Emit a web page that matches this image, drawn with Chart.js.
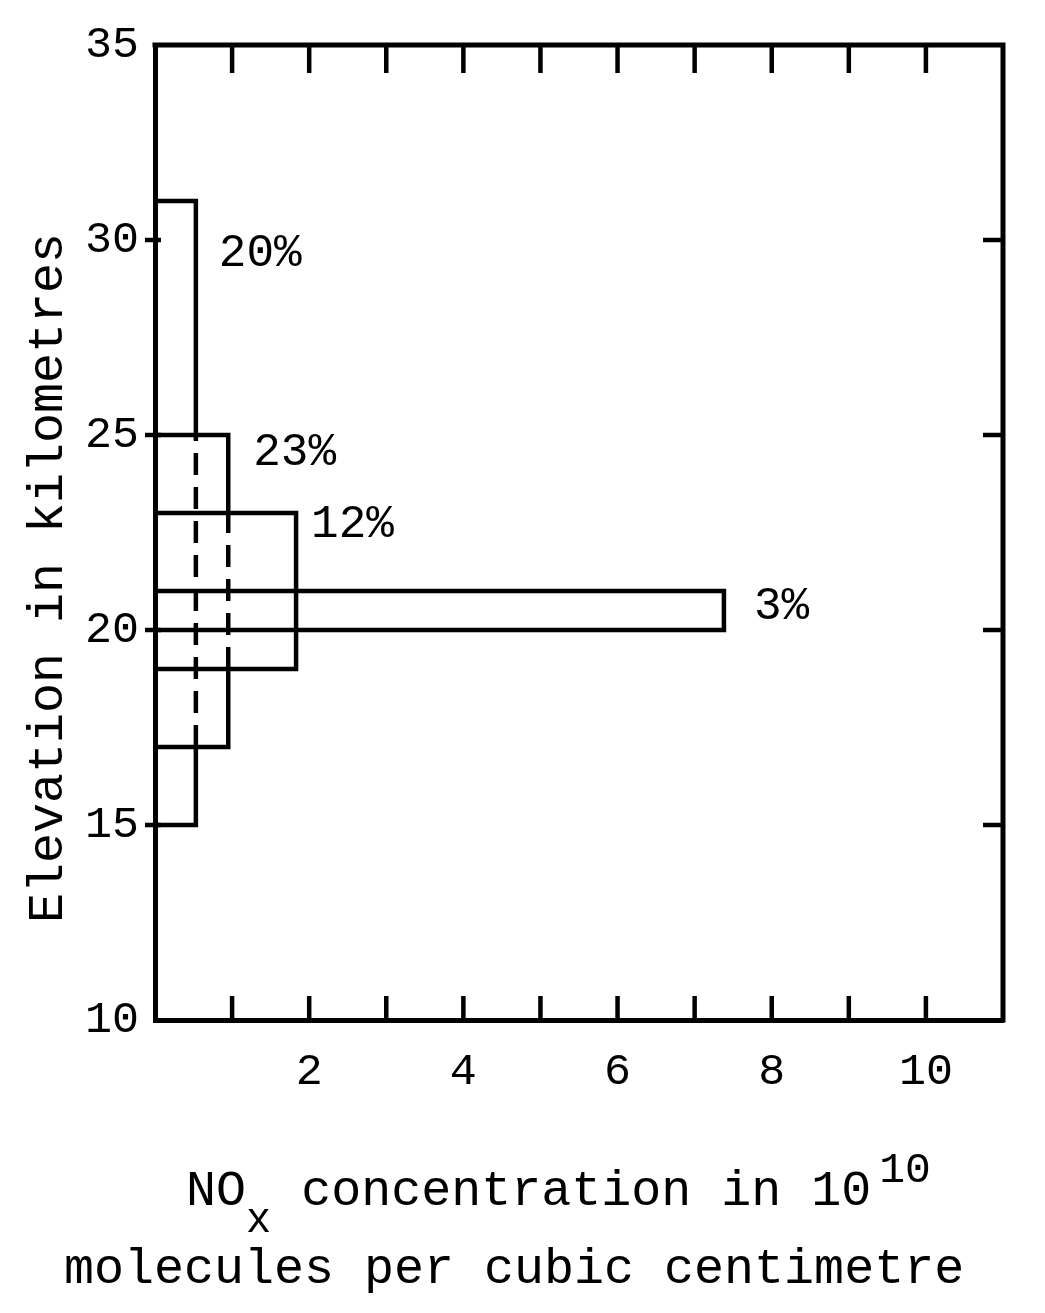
<!DOCTYPE html>
<html>
<head>
<meta charset="utf-8">
<script src="https://cdn.jsdelivr.net/npm/chart.js@4.4.1/dist/chart.umd.min.js"></script>
<style>
  html, body { margin: 0; padding: 0; background: #ffffff; }
  canvas { display: block; }
</style>
</head>
<body>
<canvas id="c" width="1045" height="1313"></canvas>
<script>
// ---- data ----
const elevBottom    = [15, 17, 19, 20];          // km
const elevTop       = [31, 25, 23, 21];          // km
const concentration = [0.53, 0.95, 1.83, 7.38];  // 10^10 molecules / cm^3
const shareLabels   = ['20%', '23%', '12%', '3%'];
const hiddenBy      = [1, 2, null, null];        // index of the bar that hides part of this bar's right edge
const xTickValues   = [2, 4, 6, 8, 10];
const yTickValues   = [10, 15, 20, 25, 30, 35];
const xMinorTicks   = [1, 2, 3, 4, 5, 6, 7, 8, 9, 10];
const yInnerTicks   = [15, 20, 25, 30];
const xTitle1       = { main: 'NO', sub: 'x', rest: ' concentration in 10', sup: '10' };
const xTitle2       = 'molecules per cubic centimetre';
const yTitle        = 'Elevation in kilometres';

// ---- build outline datasets ----
const DASH = [22, 12];
const datasets = concentration.map((w, i) => {
  const b = elevBottom[i], t = elevTop[i];
  const h = hiddenBy[i];
  let pts, dashedSeg = -1;
  if (h !== null) {
    pts = [{x:0,y:b},{x:w,y:b},{x:w,y:elevBottom[h]},{x:w,y:elevTop[h]},{x:w,y:t},{x:0,y:t}];
    dashedSeg = 2;
  } else {
    pts = [{x:0,y:b},{x:w,y:b},{x:w,y:t},{x:0,y:t}];
  }
  return {
    data: pts,
    showLine: true,
    borderColor: '#000',
    borderWidth: 4.5,
    pointRadius: 0,
    tension: 0,
    fill: false,
    borderJoinStyle: 'miter',
    borderCapStyle: 'square',
    segment: {
      borderDash: ctx => (ctx.p0DataIndex === dashedSeg ? DASH : undefined),
      borderCapStyle: ctx => (ctx.p0DataIndex === dashedSeg ? 'butt' : undefined)
    }
  };
});

const labelDx = [23, 25, 15, 30];   // px right of the bar
const labelDy = [53, 18, 12, 16];   // px below the bar top (text centre)

const decor = {
  id: 'decor',
  afterDraw(chart) {
    const {ctx, chartArea: a, scales: {x, y}} = chart;
    ctx.save();
    ctx.strokeStyle = '#000';
    ctx.fillStyle = '#000';
    // top & right frame
    ctx.lineWidth = 5;
    ctx.lineCap = 'square';
    ctx.beginPath();
    ctx.moveTo(a.left, a.top); ctx.lineTo(a.right, a.top); ctx.lineTo(a.right, a.bottom);
    ctx.stroke();
    ctx.lineCap = 'butt';
    ctx.lineWidth = 4.5;
    // x ticks, bottom (inward) and top (inward)
    xMinorTicks.forEach(v => {
      const px = x.getPixelForValue(v);
      ctx.beginPath(); ctx.moveTo(px, a.bottom); ctx.lineTo(px, a.bottom - 24); ctx.stroke();
      ctx.beginPath(); ctx.moveTo(px, a.top); ctx.lineTo(px, a.top + 28); ctx.stroke();
    });
    // y ticks, left (crossing) and right (inward)
    yInnerTicks.forEach(v => {
      const py = y.getPixelForValue(v);
      ctx.beginPath(); ctx.moveTo(a.left - 10, py); ctx.lineTo(a.left + 6, py); ctx.stroke();
      ctx.beginPath(); ctx.moveTo(a.right, py); ctx.lineTo(a.right - 20, py); ctx.stroke();
    });
    // percentage labels
    ctx.font = '46px "Liberation Mono"';
    ctx.textAlign = 'left';
    ctx.textBaseline = 'middle';
    shareLabels.forEach((s, i) => {
      const px = x.getPixelForValue(concentration[i]) + labelDx[i];
      const py = y.getPixelForValue(elevTop[i]) + labelDy[i];
      ctx.fillText(s, px, py);
    });
    // y title
    ctx.save();
    ctx.font = '50px "Liberation Mono"';
    ctx.textAlign = 'center';
    ctx.textBaseline = 'alphabetic';
    ctx.translate(62, 578);
    ctx.rotate(-Math.PI / 2);
    ctx.fillText(yTitle, 0, 0);
    ctx.restore();
    // x title line 1
    ctx.textAlign = 'left';
    ctx.textBaseline = 'alphabetic';
    ctx.font = '50px "Liberation Mono"';
    let cx = 186;
    ctx.fillText(xTitle1.main, cx, 1205);
    cx += ctx.measureText(xTitle1.main).width;
    ctx.font = '42px "Liberation Mono"';
    ctx.fillText(xTitle1.sub, cx, 1232);
    cx += ctx.measureText(xTitle1.sub).width;
    ctx.font = '50px "Liberation Mono"';
    ctx.fillText(xTitle1.rest, cx, 1205);
    cx += ctx.measureText(xTitle1.rest).width + 8;
    ctx.font = '43px "Liberation Mono"';
    ctx.fillText(xTitle1.sup, cx, 1182);
    // x title line 2
    ctx.font = '50px "Liberation Mono"';
    ctx.fillText(xTitle2, 64, 1283);
    ctx.restore();
  }
};

new Chart(document.getElementById('c'), {
  type: 'scatter',
  data: { datasets },
  options: {
    responsive: false,
    animation: false,
    layout: { padding: { left: 0, top: 45, right: 42, bottom: 0 } },
    plugins: { legend: { display: false }, tooltip: { enabled: false } },
    scales: {
      x: {
        type: 'linear', position: 'bottom', min: 0, max: 11,
        afterFit: s => { s.height = 293; },
        afterBuildTicks: s => { s.ticks = xTickValues.map(v => ({ value: v })); },
        grid: { display: false },
        border: { display: true, width: 5, color: '#000' },
        ticks: {
          color: '#000', padding: 17, maxRotation: 0, autoSkip: false,
          font: { family: 'Liberation Mono', size: 45 },
          callback: v => String(v)
        }
      },
      y: {
        type: 'linear', position: 'left', min: 10, max: 35,
        afterFit: s => { s.width = 155; },
        afterBuildTicks: s => { s.ticks = yTickValues.map(v => ({ value: v })); },
        grid: { display: false },
        border: { display: true, width: 5, color: '#000' },
        ticks: {
          color: '#000', padding: 8, autoSkip: false,
          font: { family: 'Liberation Mono', size: 45 },
          callback: v => String(v)
        }
      }
    }
  },
  plugins: [decor]
});
</script>
</body>
</html>
